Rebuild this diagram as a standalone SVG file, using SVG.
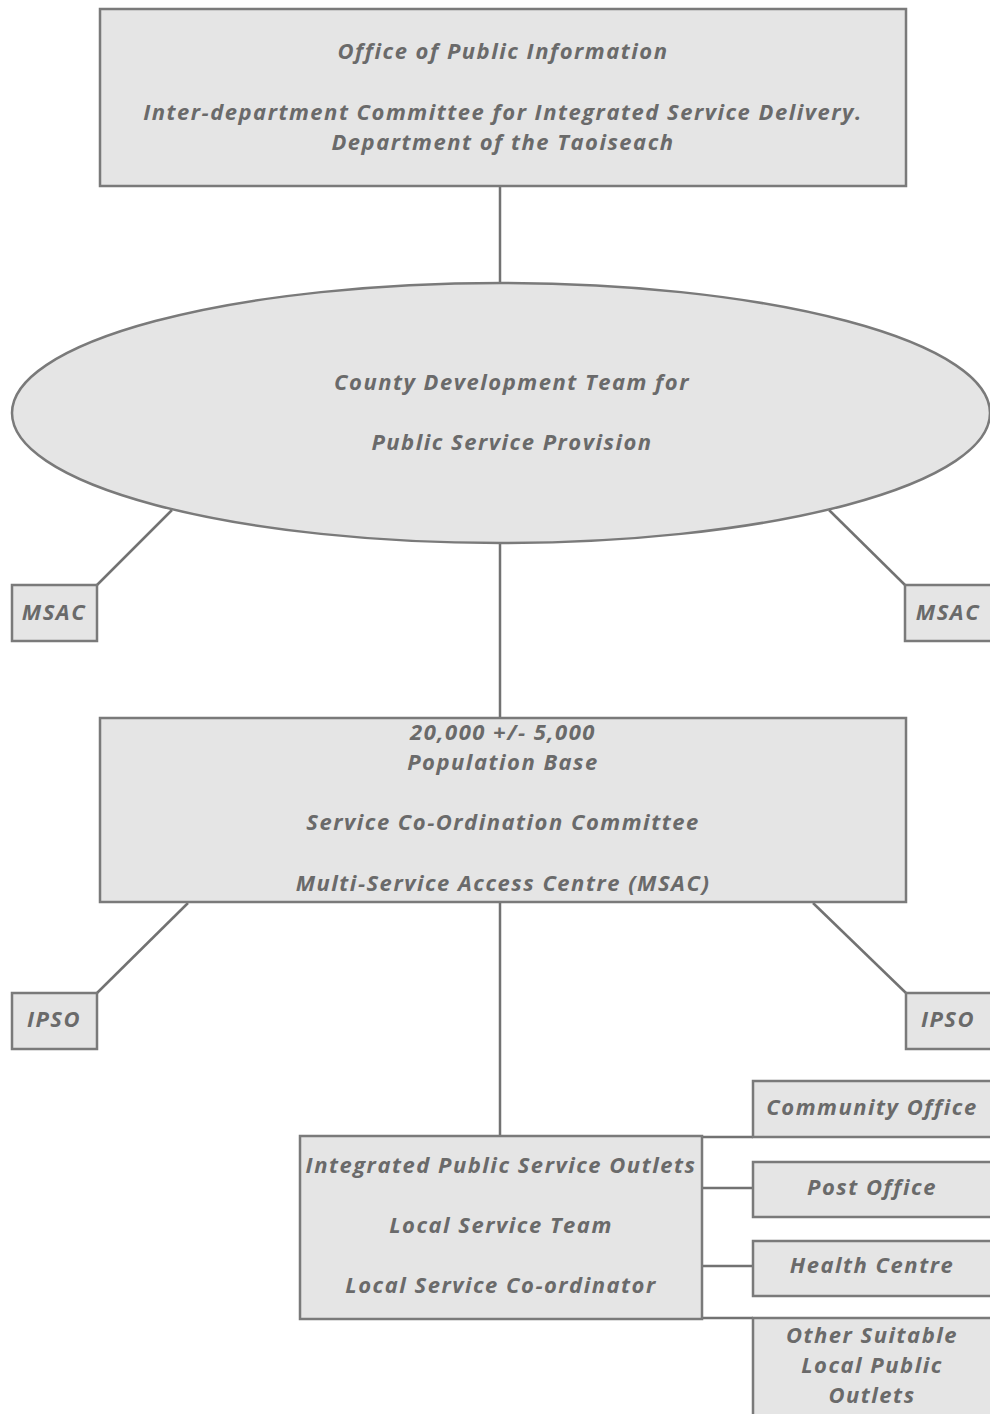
<svg xmlns="http://www.w3.org/2000/svg" width="990" height="1414" viewBox="0 0 990 1414">
<style>
.box{fill:#e5e5e5;stroke:#7a7a7a;stroke-width:2.5}
.ln{stroke:#727272;stroke-width:2.5;fill:none}
text{font-family:"Open Sans","Noto Sans",sans-serif;font-style:italic;font-weight:700;font-size:22px;letter-spacing:1.5px;fill:#6a6a6a;text-anchor:middle}
</style>
<rect width="990" height="1414" fill="#ffffff"/>
<g id="connectors">
<line class="ln" x1="500" y1="186" x2="500" y2="284"/>
<line class="ln" x1="500" y1="543" x2="500" y2="718"/>
<line class="ln" x1="172" y1="510" x2="97" y2="585"/>
<line class="ln" x1="829" y1="510" x2="905" y2="585"/>
<line class="ln" x1="500" y1="902" x2="500" y2="1136"/>
<line class="ln" x1="188" y1="903" x2="97" y2="993"/>
<line class="ln" x1="813" y1="903" x2="906" y2="993"/>
<line class="ln" x1="702" y1="1137" x2="753" y2="1137"/>
<line class="ln" x1="702" y1="1188" x2="753" y2="1188"/>
<line class="ln" x1="702" y1="1266" x2="753" y2="1266"/>
<line class="ln" x1="702" y1="1318" x2="753" y2="1318"/>
</g>
<g id="opi">
<rect class="box" x="100" y="9" width="806" height="177"/>
<text x="503" y="59">Office of Public Information</text>
<text x="503" y="120">Inter-department Committee for Integrated Service Delivery.</text>
<text x="503" y="150">Department of the Taoiseach</text>
</g>
<g id="cdt">
<ellipse class="box" cx="501" cy="413" rx="489" ry="130"/>
<text x="512" y="390">County Development Team for</text>
<text x="512" y="450">Public Service Provision</text>
</g>
<g id="msac-left">
<rect class="box" x="12" y="585" width="85" height="56"/>
<text x="54" y="620">MSAC</text>
</g>
<g id="msac-right">
<rect class="box" x="905" y="585" width="90" height="56"/>
<text x="948" y="620">MSAC</text>
</g>
<g id="scc">
<rect class="box" x="100" y="718" width="806" height="184"/>
<text x="503" y="740">20,000 +/- 5,000</text>
<text x="503" y="770">Population Base</text>
<text x="503" y="830">Service Co-Ordination Committee</text>
<text x="503" y="891">Multi-Service Access Centre (MSAC)</text>
</g>
<g id="ipso-left">
<rect class="box" x="12" y="993" width="85" height="56"/>
<text x="54" y="1027">IPSO</text>
</g>
<g id="ipso-right">
<rect class="box" x="906" y="993" width="90" height="56"/>
<text x="948" y="1027">IPSO</text>
</g>
<g id="ipsoutlets">
<rect class="box" x="300" y="1136" width="402" height="183"/>
<text x="501" y="1173">Integrated Public Service Outlets</text>
<text x="501" y="1233">Local Service Team</text>
<text x="501" y="1293">Local Service Co-ordinator</text>
</g>
<g id="community-office">
<rect class="box" x="753" y="1081" width="242" height="56"/>
<text x="872" y="1115">Community Office</text>
</g>
<g id="post-office">
<rect class="box" x="753" y="1162" width="242" height="55"/>
<text x="872" y="1195">Post Office</text>
</g>
<g id="health-centre">
<rect class="box" x="753" y="1241" width="242" height="55"/>
<text x="872" y="1273">Health Centre</text>
</g>
<g id="other-outlets">
<rect class="box" x="753" y="1318" width="242" height="110"/>
<text x="872" y="1343">Other Suitable</text>
<text x="872" y="1373">Local Public</text>
<text x="872" y="1403">Outlets</text>
</g>
</svg>
